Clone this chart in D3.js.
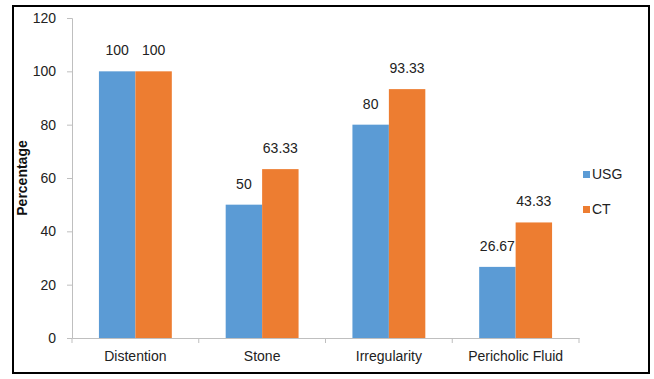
<!DOCTYPE html>
<html>
<head>
<meta charset="utf-8">
<script src="https://cdn.jsdelivr.net/npm/d3@7"></script>
<style>
  body { margin: 0; background: #fff; }
  text { font-family: "Liberation Sans", Arial, sans-serif; }
</style>
</head>
<body>
<script>
var categories = ["Distention", "Stone", "Irregularity", "Pericholic Fluid"];
var series = ["USG", "CT"];
var usgValues = [100, 50, 80, 26.67];
var ctValues = [100, 63.33, 93.33, 43.33];
var yTicks = [0, 20, 40, 60, 80, 100, 120];
var colors = ["#5b9bd5", "#ed7d31"];

var width = 654, height = 379;
var margin = {left: 72, right: 75, top: 18, bottom: 41};
var font = "Liberation Sans, Arial, sans-serif";

var svg = d3.select("body").append("svg")
  .attr("width", width)
  .attr("height", height);

// frame
svg.append("rect")
  .attr("x", 13).attr("y", 6)
  .attr("width", 636).attr("height", 367)
  .attr("fill", "none")
  .attr("stroke", "#000")
  .attr("stroke-width", 2);

var x = d3.scaleBand()
  .domain(categories)
  .range([margin.left, width - margin.right])
  .padding(0);

var inner = d3.scaleBand()
  .domain(series)
  .range([0, x.bandwidth() * 0.575]);

var y = d3.scaleLinear()
  .domain([0, 120])
  .range([height - margin.bottom, margin.top]);

var rows = categories.map(function (c, i) {
  return {cat: c, vals: [usgValues[i], ctValues[i]]};
});

var g = svg.append("g");

var groups = g.selectAll("g.cat")
  .data(rows)
  .enter().append("g")
  .attr("class", "cat")
  .attr("transform", function (d) {
    return `translate(${x(d.cat) + (x.bandwidth() - inner.range()[1]) / 2},0)`;
  });

groups.selectAll("rect")
  .data(function (d) { return d.vals.map(function (v, j) { return {s: series[j], v: v, j: j}; }); })
  .enter().append("rect")
  .attr("x", function (d) { return inner(d.s); })
  .attr("y", function (d) { return y(d.v); })
  .attr("width", inner.bandwidth())
  .attr("height", function (d) { return y(0) - y(d.v); })
  .attr("fill", function (d) { return colors[d.j]; });

groups.selectAll("text")
  .data(function (d) { return d.vals.map(function (v, j) { return {s: series[j], v: v}; }); })
  .enter().append("text")
  .attr("x", function (d) { return inner(d.s) + inner.bandwidth() / 2; })
  .attr("y", function (d) { return y(d.v) - 16; })
  .attr("text-anchor", "middle")
  .attr("font-size", 14)
  .attr("fill", "#222")
  .text(function (d) { return d.v; });

// y axis
var yAxis = svg.append("g")
  .attr("transform", `translate(${margin.left},0)`)
  .call(d3.axisLeft(y).tickValues(yTicks).tickSize(5).tickPadding(11));
yAxis.select(".domain").attr("stroke", "#bfbfbf");
yAxis.selectAll(".tick line").attr("stroke", "#bfbfbf");
yAxis.selectAll(".tick text")
  .attr("font-size", 14)
  .attr("font-family", font)
  .attr("fill", "#222");

// x axis
var xAxis = svg.append("g")
  .attr("transform", `translate(0,${y(0)})`)
  .call(d3.axisBottom(x).tickSize(0).tickPadding(13));
xAxis.select(".domain").attr("stroke", "#bfbfbf");
xAxis.selectAll(".tick text")
  .attr("font-size", 14)
  .attr("font-family", font)
  .attr("fill", "#222");

// band separators on x axis
var bounds = categories.map(function (c) { return x(c); }).concat([x.range()[1]]);
xAxis.selectAll("line.sep")
  .data(bounds)
  .enter().append("line")
  .attr("class", "sep")
  .attr("x1", function (d) { return d; })
  .attr("x2", function (d) { return d; })
  .attr("y1", 0).attr("y2", 5)
  .attr("stroke", "#bfbfbf");

// y label
svg.append("text")
  .attr("transform", `translate(27,${(y(0) + y(120)) / 2}) rotate(-90)`)
  .attr("text-anchor", "middle")
  .attr("font-size", 14)
  .attr("font-weight", "bold")
  .attr("fill", "#111")
  .text("Percentage");

// legend
var legend = svg.append("g")
  .attr("transform", "translate(583,168)");
var items = legend.selectAll("g")
  .data(series)
  .enter().append("g")
  .attr("transform", function (d, i) { return `translate(0,${i * 35})`; });
items.append("rect")
  .attr("width", 7).attr("height", 7)
  .attr("y", 3)
  .attr("fill", function (d, i) { return colors[i]; });
items.append("text")
  .attr("x", 9).attr("y", 11)
  .attr("font-size", 14)
  .attr("fill", "#222")
  .text(function (d) { return d; });
</script>
</body>
</html>
